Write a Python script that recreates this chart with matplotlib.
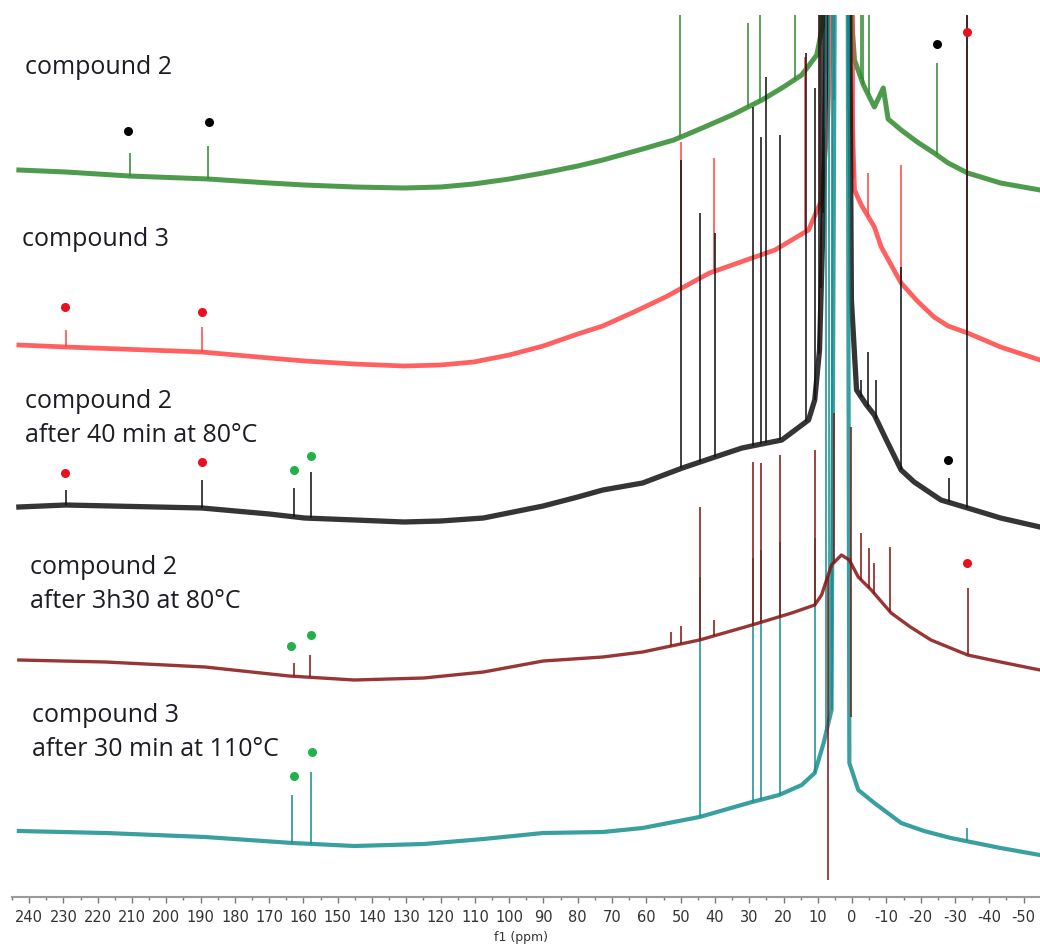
import numpy as np
import matplotlib.pyplot as plt

plt.rcParams['axes.unicode_minus'] = False

# ----------------------------------------------------------------------
# Stacked 13C spectra (arbitrary units)
# ----------------------------------------------------------------------
W, H = 1040, 949

# compound 2 (green)
c2_base_ppm = [243, 229.3, 210.7, 187.8, 170, 159.7, 145, 130.7, 120, 110.4, 100, 90.1,
               80, 72.7, 61.1, 52, 43.7, 35, 26.3, 20, 14.7, 10.3, 8.3, 6.6, 1.6, -0.7,
               -3.3, -6.5, -9.1, -10.5, -14.3, -19, -23.9, -28, -33.7, -43.3, -54.8]
c2_base_int = [727, 725, 721, 718, 714, 712, 710, 709, 710, 713, 718, 724,
               731, 737, 748, 757, 769, 782, 797, 810, 822, 842, 877, 950, 950, 837,
               812, 790, 809, 778, 767, 755, 744, 734, 724, 714, 707]
c2_peak_ppm = [210.7, 187.8, 50.1, 30.3, 26.9, 16.7, 9.0, 7.8, 6.0, 4.8, 3.5, 2.2, 1.0,
               -2.7, -3.3, -4.8, -24.8]
c2_peak_int = [744, 751, 900, 874, 900, 900, 900, 900, 900, 900, 900, 900, 900,
               900, 900, 900, 834]

# compound 3 (red)
c3_base_ppm = [243, 229.3, 189.6, 170, 159.7, 145, 130.7, 120, 110.4, 100, 90.1, 80,
               72.7, 63, 54.4, 41.6, 30, 22.5, 12.7, 8.9, 7.1, 5.4, 1.6, -0.7, -2.7,
               -6.5, -8.5, -14.3, -19, -23.9, -28, -33.7, -43.3, -54.8]
c3_base_int = [552, 550, 545, 539, 536, 533, 531, 532, 535, 542, 551, 563,
               571, 586, 600, 624, 638, 647, 667, 697, 777, 950, 950, 707, 692,
               670, 650, 614, 596, 580, 571, 564, 550, 537]
c3_peak_ppm = [229.3, 189.6, 49.8, 40.2, 13.8, 9.5, 7.0, 5.0, 3.0, 1.5, -0.6, -4.7,
               -14.3, -33.4]
c3_peak_int = [567, 570, 755, 739, 840, 900, 900, 900, 900, 900, 900, 724,
               732, 900]

# compound 2 after 40 min at 80 °C (black)
b40_base_ppm = [243, 229.3, 189.6, 170, 159.7, 145, 130.7, 120, 107.5, 90.1, 80, 72.7,
                61.1, 49.5, 40, 32.1, 20.5, 12.7, 10.9, 9.5, 8.3, 7.1, 0.8, 0.2, -1.3,
                -4.2, -6.5, -10.0, -14.3, -18.1, -25.9, -33.7, -43.3, -54.8]
b40_base_int = [390, 392, 389, 383, 379, 377, 375, 376, 379, 391, 400, 407,
                414, 429, 440, 449, 457, 477, 497, 547, 697, 950, 950, 597, 507,
                492, 482, 457, 427, 415, 397, 389, 379, 370]
b40_peak_ppm = [229.3, 189.6, 162.9, 157.9, 49.8, 44.5, 39.9, 28.9, 26.6, 25.1, 21.1,
                13.5, 10.9, 9.6, 9.0, 8.4, 7.7, 7.0, 6.3, 5.6, 4.9, 4.2, 3.5, 2.8, 2.1,
                1.4, 0.7, -2.7, -4.7, -7.1, -14.3, -28.3, -33.4]
b40_peak_int = [407, 417, 409, 425, 737, 684, 664, 790, 760, 820, 762,
                844, 809, 900, 900, 900, 900, 900, 900, 900, 900, 900, 900, 900, 900,
                900, 900, 517, 545, 517, 630, 419, 900]

# compound 2 after 3h30 at 80 °C (dark red)
b330_base_ppm = [243, 217.7, 188.7, 164.2, 145.2, 124.9, 107.5, 90.1, 72.7, 61.1, 44.5,
                 29.2, 17.6, 10.9, 8.9, 6.0, 3.1, 0.8, -1.8, -5.6, -11.4, -17, -23.0,
                 -33.7, -43.3, -54.8]
b330_base_int = [237, 235, 230, 221, 217, 219, 225, 236, 240, 245, 257,
                 272, 284, 292, 302, 332, 342, 337, 320, 307, 284, 270, 257,
                 242, 235, 227]
b330_peak_ppm = [162.9, 158.2, 52.7, 49.8, 44.5, 40.2, 28.9, 26.6, 21.1, 10.9, 7.1, 5.4,
                 0.2, 0.3, -2.7, -5.0, -6.5, -11.1, -33.7]
b330_peak_int = [234, 242, 265, 271, 390, 277, 435, 434, 442, 447, 17, 484,
                 470, 180, 364, 349, 334, 350, 309]

# compound 3 after 30 min at 110 °C (teal)
t30_base_ppm = [243, 217.7, 188.7, 163.2, 145.2, 124.9, 107.5, 90.1, 72.7, 61.1, 44.5,
                29.2, 21.3, 14.7, 10.9, 8.3, 6.0, 5.0, 1.3, 0.8, -1.8, -6.5, -14.3,
                -21, -28.8, -43.3, -54.8]
t30_base_int = [66, 64, 60, 54, 51, 53, 58, 64, 65, 69, 80,
                95, 102, 112, 124, 154, 187, 950, 950, 134, 107, 94, 74,
                66, 59, 49, 42]
t30_peak_ppm = [163.2, 157.9, 44.5, 28.9, 26.6, 21.1, 10.9, 7.5, 6.8, 6.0, 5.2, 4.4,
                3.6, 2.8, 2.0, 1.2, -33.4]
t30_peak_int = [102, 125, 320, 339, 347, 355, 359, 900, 900, 900, 900, 900,
                900, 900, 900, 900, 69]

# assignment dots
dot_ppm = [211.3, 187.5, -24.8, -33.4,
           229.6, 189.6,
           229.6, 189.6, 162.9, 157.9, -27.9,
           163.5, 157.9, -33.4,
           162.9, 157.6]
dot_int = [766, 775, 853, 865,
           590, 585,
           424, 435, 427, 441, 437,
           251, 262, 334,
           121, 145]
dot_kind = ['k', 'k', 'k', 'r',
            'r', 'r',
            'r', 'r', 'g', 'g', 'k',
            'g', 'g', 'r',
            'g', 'g']

labels = [("compound 2", 25, 67),
          ("compound 3", 22, 240),
          ("compound 2", 25, 402), ("after 40 min at 80°C", 25, 436),
          ("compound 2", 30, 568), ("after 3h30 at 80°C", 30, 602),
          ("compound 3", 32, 716), ("after 30 min at 110°C", 32, 750)]

spectra = [
    (c2_base_ppm, c2_base_int, c2_peak_ppm, c2_peak_int, '#2f8a2f', 3.6),
    (c3_base_ppm, c3_base_int, c3_peak_ppm, c3_peak_int, '#ff4444', 3.4),
    (b40_base_ppm, b40_base_int, b40_peak_ppm, b40_peak_int, '#111111', 3.8),
    (t30_base_ppm, t30_base_int, t30_peak_ppm, t30_peak_int, '#168e8e', 3.0),
    (b330_base_ppm, b330_base_int, b330_peak_ppm, b330_peak_int, '#861313', 2.4),
]
dot_colors = {'k': '#000000', 'r': '#e8101e', 'g': '#22b04b'}

fig = plt.figure(figsize=(W / 100, H / 100), dpi=100)
ax = fig.add_axes([12 / W, (H - 897) / H, 1028 / W, 882 / H])

for z, (bp, bi, pp, pi, col, lw) in enumerate(spectra):
    bp = np.asarray(bp, float)
    bi = np.asarray(bi, float)
    pp = np.asarray(pp, float)
    ax.plot(bp, bi, color=col, lw=lw, alpha=0.85, solid_joinstyle='round', zorder=2 + z)
    foot = np.interp(pp, bp[::-1], bi[::-1])
    ax.vlines(pp, foot, pi, color=col, lw=1.4, alpha=0.8, zorder=2 + z)

for p, v, k in zip(dot_ppm, dot_int, dot_kind):
    ax.plot(p, v, 'o', color=dot_colors[k], ms=6.5, mec='none', zorder=10, clip_on=False)

ax.set_xlim(243.2, -54.8)
ax.set_ylim(0, 882)
for s in ['top', 'left', 'right']:
    ax.spines[s].set_visible(False)
ax.spines['bottom'].set_color('#9a9a9a')
ax.spines['bottom'].set_linewidth(1.5)
ax.set_yticks([])
ax.set_xticks(np.arange(240, -51, -10))
ax.set_xticks(np.arange(245, -55, -5), minor=True)
ax.tick_params(axis='x', which='major', direction='out', length=4, width=1,
               color='#777777', labelsize=10.5, labelcolor='#333333', pad=5)
ax.tick_params(axis='x', which='minor', direction='out', length=2, width=1, color='#777777')
ax.set_xlabel("f1 (ppm)", fontsize=9, color='#333333', labelpad=1)
ax.xaxis.set_label_coords((850.6 - 12 - 330) / 1028, -0.038)

for txt, x, y in labels:
    fig.text(x / W, 1 - y / H, txt, fontsize=18, family='Open Sans', color='#1c1c24',
             va='center', ha='left')

fig.savefig("out.png", dpi=100)
